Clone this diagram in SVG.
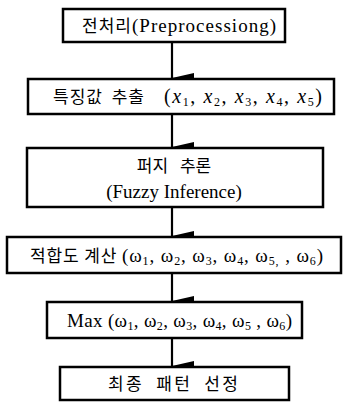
<svg xmlns="http://www.w3.org/2000/svg" width="345" height="402" viewBox="0 0 345 402">
<defs>
<style>
.box{fill:#fff;stroke:#000;stroke-width:2.5}
.ko{font-family:"Noto Sans CJK KR","Noto Sans",sans-serif;font-size:17px}
.la{font-family:"Liberation Serif",serif;font-size:19px}
.sub{font-size:12px}
.it{font-style:italic}
.con{stroke:#000;stroke-width:2.2;fill:none}
text{fill:#000}
</style>
<marker id="ah" markerUnits="userSpaceOnUse" markerWidth="10" markerHeight="22" viewBox="0 0 10 22" refX="5" refY="22" orient="auto">
<path d="M0,0 L10,0 L5,22 Z" fill="#000"/>
</marker>
</defs>
<rect width="345" height="402" fill="#fff"/>
<g id="connectors">
<line class="con" x1="172" y1="42" x2="172" y2="78" marker-end="url(#ah)"/>
<line class="con" x1="172" y1="114" x2="172" y2="147" marker-end="url(#ah)"/>
<line class="con" x1="172" y1="207" x2="172" y2="236" marker-end="url(#ah)"/>
<line class="con" x1="172" y1="273" x2="172" y2="301" marker-end="url(#ah)"/>
<line class="con" x1="172" y1="338" x2="172" y2="366" marker-end="url(#ah)"/>
</g>
<g id="n1">
<rect class="box" x="63" y="9" width="222" height="33"/>
<text x="82" y="32" textLength="194" lengthAdjust="spacing"><tspan class="ko">전처리</tspan><tspan class="la">(Preprocessiong)</tspan></text>
</g>
<g id="n2">
<rect class="box" x="28" y="79" width="306" height="35"/>
<text class="ko" x="53" y="103" textLength="91" lengthAdjust="spacing" word-spacing="4">특징값 추출</text>
<text class="la" x="164" y="103" textLength="158" lengthAdjust="spacing" style="font-size:20px">(<tspan class="it">x</tspan><tspan class="sub" dy="3">1</tspan><tspan dy="-3">, </tspan><tspan class="it">x</tspan><tspan class="sub" dy="3">2</tspan><tspan dy="-3">, </tspan><tspan class="it">x</tspan><tspan class="sub" dy="3">3</tspan><tspan dy="-3">, </tspan><tspan class="it">x</tspan><tspan class="sub" dy="3">4</tspan><tspan dy="-3">, </tspan><tspan class="it">x</tspan><tspan class="sub" dy="3">5</tspan><tspan dy="-3">)</tspan></text>
</g>
<g id="n3">
<rect class="box" x="27" y="148" width="296" height="59"/>
<text class="ko" x="174" y="172" text-anchor="middle" word-spacing="8">퍼지 추론</text>
<text class="la" x="174" y="198" text-anchor="middle">(Fuzzy Inference)</text>
</g>
<g id="n4">
<rect class="box" x="7" y="237" width="334" height="36"/>
<text x="30" y="262" textLength="293" lengthAdjust="spacing"><tspan class="ko">적합도 계산 </tspan><tspan class="la">(ω<tspan class="sub" dy="3">1</tspan><tspan dy="-3">, ω</tspan><tspan class="sub" dy="3">2</tspan><tspan dy="-3">, ω</tspan><tspan class="sub" dy="3">3</tspan><tspan dy="-3">, ω</tspan><tspan class="sub" dy="3">4</tspan><tspan dy="-3">, ω</tspan><tspan class="sub" dy="3">5,</tspan><tspan dy="-3"> , ω</tspan><tspan class="sub" dy="3">6</tspan><tspan dy="-3">)</tspan></tspan></text>
</g>
<g id="n5">
<rect class="box" x="47" y="302" width="255" height="36"/>
<text class="la" x="67" y="327" textLength="225" lengthAdjust="spacing">Max (ω<tspan class="sub" dy="3">1</tspan><tspan dy="-3">, ω</tspan><tspan class="sub" dy="3">2</tspan><tspan dy="-3">, ω</tspan><tspan class="sub" dy="3">3</tspan><tspan dy="-3">, ω</tspan><tspan class="sub" dy="3">4</tspan><tspan dy="-3">, ω</tspan><tspan class="sub" dy="3">5</tspan><tspan dy="-3"> , ω</tspan><tspan class="sub" dy="3">6</tspan><tspan dy="-3">)</tspan></text>
</g>
<g id="n6">
<rect class="box" x="60" y="367" width="229" height="33"/>
<text class="ko" x="108" y="390" textLength="130" lengthAdjust="spacing" word-spacing="6">최종 패턴 선정</text>
</g>
</svg>
